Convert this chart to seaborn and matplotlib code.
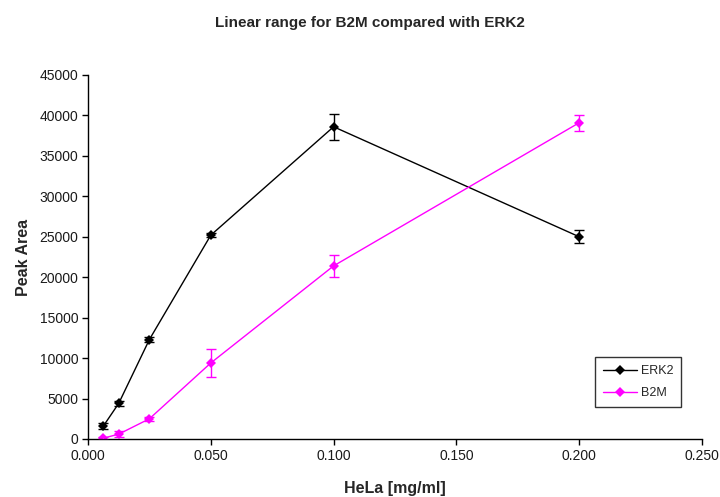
import matplotlib
matplotlib.use("Agg")
import matplotlib.pyplot as plt
import seaborn as sns
import pandas as pd

sns.set_style("white")
plt.rcParams["font.family"] = ["Liberation Sans", "DejaVu Sans"]

hela = [0.00625, 0.0125, 0.025, 0.05, 0.1, 0.2]
erk2 = [1600, 4400, 12300, 25200, 38600, 25000]
erk2_err = [350, 350, 250, 250, 1600, 800]
b2m = [100, 600, 2500, 9400, 21400, 39100]
b2m_err = [200, 350, 250, 1700, 1400, 1000]

df = pd.DataFrame({
    "HeLa": hela * 2,
    "Peak Area": erk2 + b2m,
    "err": erk2_err + b2m_err,
    "Protein": ["ERK2"] * len(hela) + ["B2M"] * len(hela),
})
palette = {"ERK2": "black", "B2M": "#ff00ff"}

fig = plt.figure(figsize=(7.2, 4.97), dpi=100)
ax = fig.add_axes([88 / 720, 1 - 439 / 497, (702 - 88) / 720, (439 - 75) / 497])

sns.lineplot(data=df, x="HeLa", y="Peak Area", hue="Protein", hue_order=["ERK2", "B2M"],
             palette=palette, marker="D", markersize=5, markeredgewidth=0,
             linewidth=1, ax=ax, errorbar=None)
for name, g in df.groupby("Protein"):
    ax.errorbar(g["HeLa"], g["Peak Area"], yerr=g["err"], fmt="none",
                ecolor=palette[name], elinewidth=1, capsize=3.5, capthick=1, zorder=3)

ax.set_xlim(0, 0.25)
ax.set_ylim(0, 45000)
ax.set_xticks([0, 0.05, 0.1, 0.15, 0.2, 0.25])
ax.set_xticklabels(["0.000", "0.050", "0.100", "0.150", "0.200", "0.250"])
ax.set_yticks(range(0, 45001, 5000))
ax.tick_params(axis="both", direction="out", length=4, width=1, color="black",
               labelsize=10, colors="black", bottom=True, left=True, pad=3)
ax.tick_params(axis="both", labelcolor="#1a1a1a")
for side in ["top", "right"]:
    ax.spines[side].set_visible(False)
for side in ["left", "bottom"]:
    ax.spines[side].set_color("black")
    ax.spines[side].set_linewidth(1)

ax.set_xlabel("HeLa [mg/ml]", fontsize=11.5, fontweight="bold", labelpad=13)
ax.set_ylabel("Peak Area", fontsize=11.5, fontweight="bold", labelpad=6)
fig.suptitle("Linear range for B2M compared with ERK2", fontsize=11, fontweight="bold",
             x=370 / 720, y=1 - 16 / 497, va="top")

leg = ax.legend(loc="upper left", bbox_to_anchor=((595 - 88) / 614, (439 - 357) / 364),
                frameon=True, fancybox=False, edgecolor="black", fontsize=9,
                handlelength=2.7, handletextpad=0.3, borderpad=0.65, labelspacing=0.8,
                borderaxespad=0)
leg.get_frame().set_linewidth(1)

fig.savefig("out.png", dpi=100)
